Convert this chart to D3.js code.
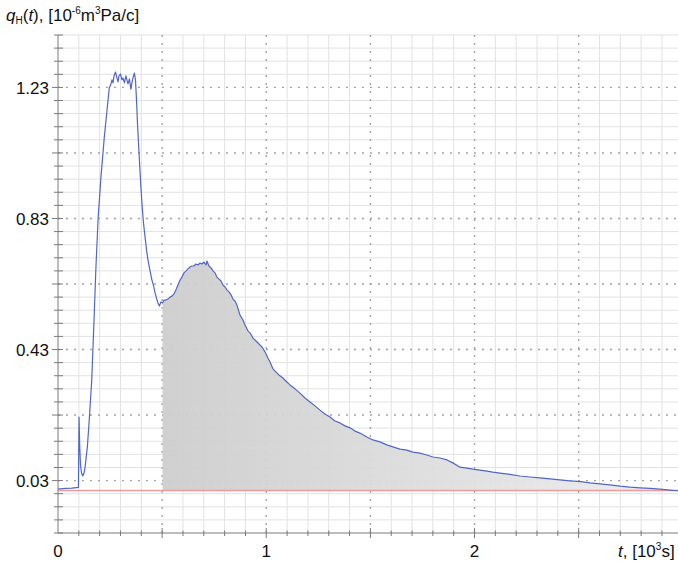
<!DOCTYPE html>
<html>
<head>
<meta charset="utf-8">
<script src="https://cdn.jsdelivr.net/npm/d3@7"></script>
<style>
body { margin: 0; background: #fff; }
text { font-family: "Liberation Sans", Arial, sans-serif; fill: #111; }
</style>
</head>
<body>
<div id="chart"></div>
<script>
// time t, [10^3 s]
var tValues = [0, 0.034, 0.067, 0.098, 0.101, 0.104, 0.108, 0.113, 0.119, 0.125, 0.130, 0.141, 0.150, 0.162, 0.173,
  0.182, 0.193, 0.206, 0.222, 0.234, 0.246, 0.253, 0.259, 0.264, 0.269, 0.276, 0.283, 0.288, 0.293, 0.300,
  0.307, 0.312, 0.319, 0.326, 0.331, 0.336, 0.343, 0.350, 0.355, 0.360, 0.367, 0.372, 0.377, 0.382, 0.389,
  0.396, 0.403, 0.410, 0.418, 0.425, 0.432, 0.442, 0.451, 0.458, 0.466, 0.473, 0.480, 0.487, 0.494, 0.502,
  0.509, 0.518, 0.528, 0.538, 0.547, 0.557, 0.566, 0.576, 0.586, 0.595, 0.605, 0.615, 0.624, 0.634, 0.643,
  0.653, 0.662, 0.672, 0.682, 0.691, 0.701, 0.711, 0.715, 0.725, 0.735, 0.744, 0.754, 0.763, 0.773, 0.783,
  0.792, 0.802, 0.811, 0.821, 0.831, 0.840, 0.850, 0.859, 0.874, 0.888, 0.898, 0.912, 0.922, 0.936, 0.951,
  0.965, 0.979, 0.994, 1.008, 1.018, 1.032, 1.047, 1.061, 1.080, 1.099, 1.114, 1.138, 1.162, 1.186, 1.210,
  1.234, 1.258, 1.282, 1.306, 1.330, 1.354, 1.378, 1.402, 1.426, 1.450, 1.483, 1.512, 1.546, 1.579, 1.608,
  1.642, 1.675, 1.704, 1.738, 1.771, 1.800, 1.834, 1.868, 1.896, 1.930, 1.963, 1.992, 2.026, 2.060, 2.088,
  2.122, 2.170, 2.218, 2.266, 2.314, 2.362, 2.410, 2.458, 2.511, 2.554, 2.602, 2.650, 2.698, 2.746, 2.794,
  2.842, 2.890, 2.938, 2.977];
// q_H(t), [10^-6 m^3 Pa/c]
var qValues = [0.004, 0.006, 0.007, 0.009, 0.224, 0.139, 0.078, 0.053, 0.044, 0.053, 0.071, 0.133, 0.215, 0.337, 0.520,
  0.679, 0.835, 0.954, 1.076, 1.152, 1.228, 1.238, 1.253, 1.244, 1.265, 1.277, 1.259, 1.247, 1.265, 1.271,
  1.253, 1.259, 1.244, 1.265, 1.253, 1.241, 1.256, 1.225, 1.244, 1.259, 1.274, 1.253, 1.192, 1.115, 1.030,
  0.948, 0.877, 0.819, 0.774, 0.734, 0.703, 0.670, 0.642, 0.627, 0.603, 0.587, 0.572, 0.563, 0.575, 0.572,
  0.581, 0.581, 0.584, 0.590, 0.593, 0.600, 0.612, 0.627, 0.642, 0.651, 0.664, 0.670, 0.676, 0.682, 0.685,
  0.685, 0.691, 0.688, 0.694, 0.691, 0.697, 0.688, 0.700, 0.685, 0.679, 0.670, 0.664, 0.651, 0.645, 0.639,
  0.627, 0.621, 0.612, 0.606, 0.597, 0.584, 0.578, 0.566, 0.535, 0.520, 0.505, 0.487, 0.481, 0.465, 0.456,
  0.447, 0.438, 0.423, 0.404, 0.392, 0.371, 0.361, 0.352, 0.343, 0.331, 0.322, 0.310, 0.297, 0.282, 0.270,
  0.258, 0.245, 0.233, 0.224, 0.212, 0.206, 0.197, 0.191, 0.181, 0.175, 0.163, 0.154, 0.148, 0.139, 0.133,
  0.126, 0.123, 0.117, 0.114, 0.108, 0.102, 0.099, 0.093, 0.084, 0.071, 0.068, 0.065, 0.062, 0.059, 0.056,
  0.053, 0.049, 0.044, 0.041, 0.038, 0.035, 0.032, 0.029, 0.027, 0.023, 0.020, 0.017, 0.013, 0.010, 0.008,
  0.006, 0.004, 0.001, -0.001];
var xTickLabels = [0, 1, 2];
var yTickLabels = [0.03, 0.43, 0.83, 1.23];
var fillStart = 0.5;   // shaded area begins here
var baseLevel = 0;     // red reference line

var width = 678;
var height = 562;

var points = tValues.map((t, i) => { return {t: t, q: qValues[i]}; });

var x = d3.scaleLinear()
  .domain([0, 2.977])
  .range([58, 678]);
var y = d3.scaleLinear()
  .domain([-0.13, 1.39])
  .range([533, 35]);

var svg = d3.select('#chart')
  .append('svg')
  .attr('width', width)
  .attr('height', height);

// grid steps
var xMinor = d3.range(1, 30).map((i) => { return i / 10; });
var yMinor = d3.range(1, 39).map((k) => { return -0.13 + 0.04 * k; });
var isXMajor = (v) => { return Math.abs(v * 2 - Math.round(v * 2)) < 1e-6; };
var isYMajor = (v) => { return Math.abs((v - 0.03) / 0.2 - Math.round((v - 0.03) / 0.2)) < 1e-6; };

svg.append('g').selectAll('line')
  .data(xMinor.filter((v) => { return !isXMajor(v); }))
  .enter().append('line')
  .attr('x1', (d) => { return x(d); }).attr('x2', (d) => { return x(d); })
  .attr('y1', y.range()[1]).attr('y2', y.range()[0])
  .attr('stroke', '#e2e2e2').attr('stroke-width', 1);

svg.append('g').selectAll('line')
  .data(yMinor.filter((v) => { return !isYMajor(v); }))
  .enter().append('line')
  .attr('x1', x.range()[0]).attr('x2', width)
  .attr('y1', (d) => { return y(d); }).attr('y2', (d) => { return y(d); })
  .attr('stroke', '#e2e2e2').attr('stroke-width', 1);

// dotted major grid
svg.append('g').selectAll('line')
  .data(xMinor.filter(isXMajor))
  .enter().append('line')
  .attr('x1', (d) => { return x(d); }).attr('x2', (d) => { return x(d); })
  .attr('y1', y.range()[1]).attr('y2', y.range()[0])
  .attr('stroke', '#a2a2a2').attr('stroke-width', 1.4)
  .attr('stroke-dasharray', '2,6');

svg.append('g').selectAll('line')
  .data(yMinor.filter(isYMajor))
  .enter().append('line')
  .attr('x1', x.range()[0]).attr('x2', width)
  .attr('y1', (d) => { return y(d); }).attr('y2', (d) => { return y(d); })
  .attr('stroke', '#a2a2a2').attr('stroke-width', 1.4)
  .attr('stroke-dasharray', '2,6');

// shaded area under the second hump
var grad = svg.append('defs').append('linearGradient')
  .attr('id', 'fillGrad')
  .attr('gradientUnits', 'userSpaceOnUse')
  .attr('x1', x(fillStart)).attr('x2', width)
  .attr('y1', 0).attr('y2', 0);
grad.append('stop').attr('offset', '0%').attr('stop-color', '#cdcdcd');
grad.append('stop').attr('offset', '100%').attr('stop-color', '#ededed');

var area = d3.area()
  .x((d) => { return x(d.t); })
  .y0(y(baseLevel))
  .y1((d) => { return y(d.q); });

svg.append('path')
  .datum(points.filter((d) => { return d.t >= fillStart; }))
  .attr('d', area)
  .attr('fill', 'url(#fillGrad)')
  .attr('fill-opacity', 0.94);

// axes
var axisColor = '#7a7a7a';
svg.append('line')
  .attr('x1', x.range()[0]).attr('x2', x.range()[0])
  .attr('y1', y.range()[1]).attr('y2', y.range()[0])
  .attr('stroke', axisColor);
svg.append('line')
  .attr('x1', x.range()[0]).attr('x2', width)
  .attr('y1', y.range()[0]).attr('y2', y.range()[0])
  .attr('stroke', axisColor);

svg.append('g').selectAll('line')
  .data(yMinor.concat([-0.13]))
  .enter().append('line')
  .attr('x1', (d) => { return isYMajor(d) ? 52 : 54; }).attr('x2', 63)
  .attr('y1', (d) => { return y(d); }).attr('y2', (d) => { return y(d); })
  .attr('stroke', axisColor);

svg.append('g').selectAll('line')
  .data(xMinor)
  .enter().append('line')
  .attr('x1', (d) => { return x(d); }).attr('x2', (d) => { return x(d); })
  .attr('y1', (d) => { return isXMajor(d) ? y.range()[0] - 5 : y.range()[0] - 2.5; })
  .attr('y2', (d) => { return isXMajor(d) ? y.range()[0] + 5 : y.range()[0] + 3; })
  .attr('stroke', axisColor);

svg.append('g').selectAll('text')
  .data(yTickLabels)
  .enter().append('text')
  .attr('x', 49)
  .attr('y', (d) => { return y(d) + 6.5; })
  .attr('text-anchor', 'end')
  .attr('font-size', 17)
  .text((d) => { return d.toFixed(2); });

svg.append('g').selectAll('text')
  .data(xTickLabels)
  .enter().append('text')
  .attr('x', (d) => { return x(d); })
  .attr('y', 557)
  .attr('text-anchor', 'middle')
  .attr('font-size', 17)
  .text((d) => { return d; });

// reference line and signal
svg.append('line')
  .attr('x1', x.range()[0]).attr('x2', width)
  .attr('y1', y(baseLevel)).attr('y2', y(baseLevel))
  .attr('stroke', '#f29a9a').attr('stroke-width', 1.5);

var line = d3.line()
  .x((d) => { return x(d.t); })
  .y((d) => { return y(d.q); });

svg.append('path')
  .datum(points)
  .attr('d', line)
  .attr('fill', 'none')
  .attr('stroke', '#5366c6')
  .attr('stroke-width', 1.2)
  .attr('stroke-linejoin', 'round');

// axis titles
var yTitle = svg.append('text')
  .attr('x', 6).attr('y', 21)
  .attr('font-size', 17);
yTitle.append('tspan').attr('font-style', 'italic').text('q');
yTitle.append('tspan').attr('font-size', 10).attr('dy', 3).text('H');
yTitle.append('tspan').attr('dy', -3).text('(');
yTitle.append('tspan').attr('font-style', 'italic').text('t');
yTitle.append('tspan').text('), [10');
yTitle.append('tspan').attr('font-size', 10).attr('dy', -7).text('-6');
yTitle.append('tspan').attr('dy', 7).text('m');
yTitle.append('tspan').attr('font-size', 10).attr('dy', -7).text('3');
yTitle.append('tspan').attr('dy', 7).text('Pa/c]');

var xTitle = svg.append('text')
  .attr('x', 618).attr('y', 557)
  .attr('font-size', 17);
xTitle.append('tspan').attr('font-style', 'italic').text('t');
xTitle.append('tspan').text(', [10');
xTitle.append('tspan').attr('font-size', 10).attr('dy', -7).text('3');
xTitle.append('tspan').attr('dy', 7).text('s]');
</script>
</body>
</html>
